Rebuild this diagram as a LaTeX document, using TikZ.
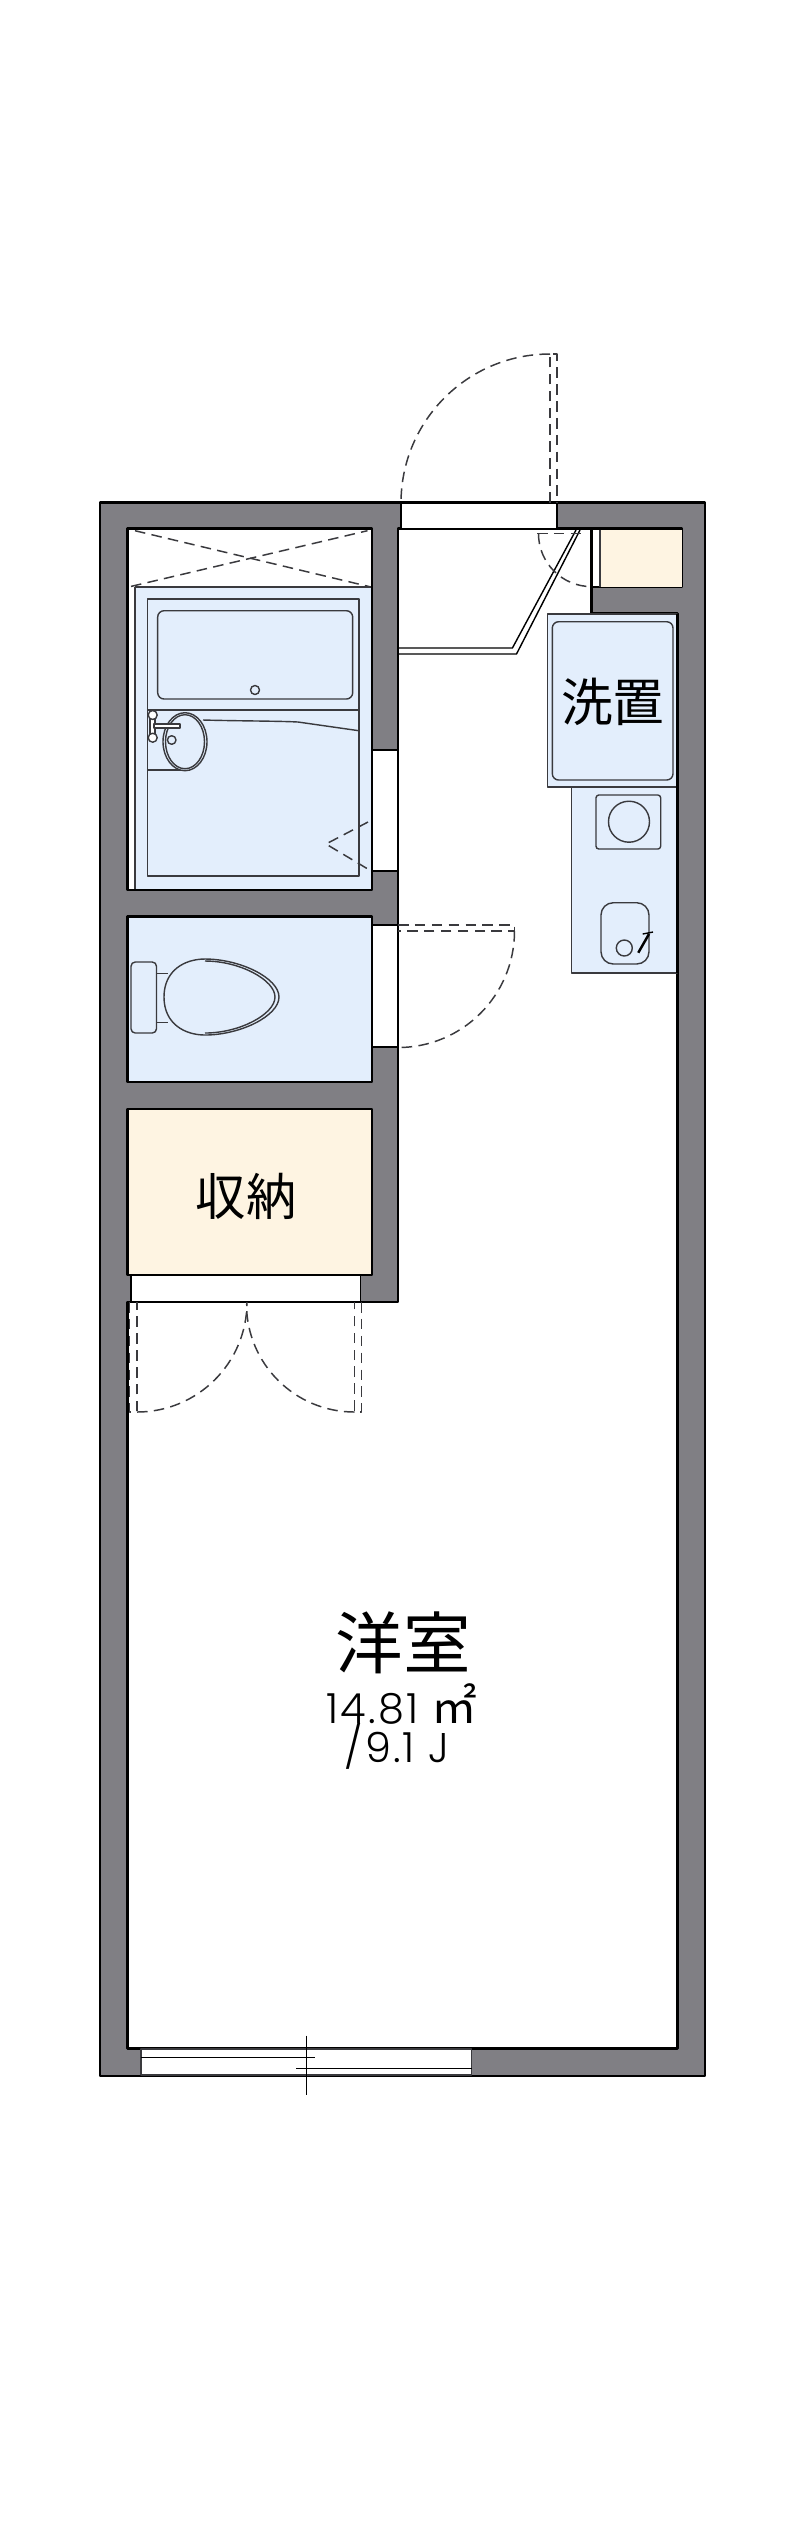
\documentclass[tikz,border=0pt]{standalone}
\usepackage{fontspec}
\newfontfamily\jpfont{Noto Sans CJK JP}
\newfontfamily\numfont[UprightFont=* Light, LetterSpace=5]{Poppins}
\usetikzlibrary{positioning}
\definecolor{wallgray}{HTML}{807F84}
\definecolor{wetblue}{HTML}{E3EEFC}
\definecolor{creamy}{HTML}{FEF4E2}
\definecolor{fixgray}{HTML}{3A3A3E}
\tikzset{
	wall/.style={fill=wallgray, draw=black, line width=0.6pt},
	roomline/.style={draw=black, line width=0.7pt},
	fixture/.style={draw=fixgray, line width=0.4pt},
	swing/.style={draw=fixgray, line width=0.42pt, dash pattern=on 3pt off 1.8pt},
	thinline/.style={draw=black, line width=0.3pt},
	opening/.style={fill=white, draw=none}
}
\begin{document}
\begin{tikzpicture}[x=0.01cm, y=-0.01cm, line join=round, line cap=butt]
	\useasboundingbox (0,0) rectangle (800,2541);
	\fill[white] (0,0) rectangle (800,2541);
	\coordinate (WL) at (141,2050);
	% walls and the big room
	\draw[wall] (100,502.5) rectangle (705,2076);
	\draw[roomline, fill=white] (398,528.6) -- (591.7,528.6) -- (591.7,613.5) -- (677.7,613.5) -- (677.7,2048.6) -- (127.5,2048.6) -- (127.5,1302) -- (398,1302) -- cycle;
	% front door
	\fill[opening] (401,503.5) rectangle (557,528);
	\draw[thinline] (401,502.5) -- (557,502.5);
	\draw[thinline] (401,502.5) -- (401,528.6);
	\draw[thinline, line width=0.5pt] (557,502.5) -- (557,528.6);
	\draw[swing] (550,502.5) -- (550,354) -- (557,354) -- (557,502.5);
	\draw[swing] (550,354) arc[start angle=270, end angle=180, radius=149];
	% entry step and its door
	\draw[thinline, line width=0.4pt] (398,648) -- (512.4,648) -- (576,530);
	\draw[thinline, line width=0.4pt] (398,654) -- (516.5,654) -- (580,530);
	\draw[swing] (537,533.6) -- (586,533.6);
	\draw[swing] (538.5,533.6) arc[start angle=180, end angle=90, radius=53];
	% meter box
	\draw[roomline, fill=white] (591.7,528.6) rectangle (682,587);
	\fill[creamy] (600,529.5) rectangle (681.5,586.5);
	\draw[fixture] (600,529.5) -- (600,586.5);
	% bath
	\draw[roomline, fill=white] (127.5,528.6) rectangle (372,890);
	\fill[wetblue] (135,587) rectangle (371,889);
	\draw[fixture] (135,587) -- (371,587);
	\draw[fixture] (135,587) -- (135,889);
	\draw[swing] (135,530.7) -- (371,587);
	\draw[swing] (131,586.4) -- (367.5,530.7);
	\draw[fixture] (147.7,599) rectangle (359,876);
	\draw[fixture, rounded corners=1.8pt] (157.7,610.7) rectangle (352.7,699);
	\draw[fixture] (147.7,710) -- (359,710);
	\draw[fixture] (255,690) circle (4.5);
	\draw[fixture] (203,720) .. controls (240,721) and (280,721) .. (298,722) -- (359,730.7);
	\draw[fixture] (147.7,770) -- (186.7,770);
	\draw[fixture, fill=wetblue] (185,741.7) ellipse (22 and 29);
	\draw[fixture] (185,741.7) ellipse (19.5 and 27);
	\draw[fixture, fill=white] (150,716) rectangle (155,738);
	\draw[fixture, fill=white] (152.7,715) circle (4.5);
	\draw[fixture, fill=white] (152.7,737.7) circle (4.5);
	\draw[fixture, fill=white] (154,724) rectangle (180,728);
	\draw[fixture] (171.7,740) circle (4.3);
	% bath door
	\fill[opening] (373,750) rectangle (397,871);
	\draw[thinline] (373,750) -- (397,750);
	\draw[thinline] (373,871) -- (397,871);
	\draw[roomline] (372,528.6) -- (372,890);
	\draw[swing] (368,822) -- (326,844) -- (370.7,870.7);
	% toilet
	\draw[roomline, fill=wetblue] (127.5,916.4) rectangle (372,1082);
	\draw[fixture, rounded corners=1.2pt] (131,962) rectangle (156.5,1033);
	\draw[fixture] (156.5,973.6) -- (167.5,973.6);
	\draw[fixture] (156.5,1022.5) -- (167.5,1022.5);
	\draw[fixture, fill=wetblue] (164,997) .. controls (164,970) and (185,959) .. (205,959) .. controls (240,959) and (279,978) .. (279,997) .. controls (279,1016) and (240,1035) .. (205,1035) .. controls (185,1035) and (164,1024) .. (164,997) -- cycle;
	\draw[fixture] (205,961) .. controls (240,961) and (275,980) .. (275,997) .. controls (275,1014) and (240,1033) .. (205,1033);
	% toilet door
	\fill[opening] (373,925) rectangle (399,1047);
	\draw[thinline] (373,925) -- (398,925);
	\draw[thinline] (373,1047) -- (398,1047);
	\draw[thinline] (398,925) -- (398,1047);
	\draw[swing] (398,925) -- (514.5,925) -- (514.5,931) -- (398,931);
	\draw[swing] (514.5,931) arc[start angle=0, end angle=90, radius=116.5];
	% closet
	\draw[roomline, fill=creamy] (127.5,1109) rectangle (372,1275);
	\fill[opening] (131,1276) rectangle (360.6,1301);
	\draw[thinline] (131,1275) -- (131,1302);
	\draw[thinline] (360.6,1275) -- (360.6,1302);
	\draw[thinline] (127.5,1302) -- (398,1302);
	\draw[swing] (129.6,1302) -- (129.6,1412) -- (137,1412) -- (137,1302);
	\draw[swing] (361.4,1302) -- (361.4,1412) -- (354.5,1412) -- (354.5,1302);
	\draw[swing] (137,1412) arc[start angle=90, end angle=0, radius=110];
	\draw[swing] (354.5,1412) arc[start angle=90, end angle=180, radius=108];
	% kitchen
	\draw[fixture, fill=wetblue] (571.7,787) rectangle (677,973);
	\draw[fixture, fill=wetblue] (547.7,614) rectangle (677,787);
	\draw[fixture, rounded corners=1.8pt] (552.3,621.7) rectangle (673,780);
	\draw[fixture, rounded corners=0.8pt] (596,795) rectangle (660.7,849);
	\draw[fixture] (629,821.7) circle (20.5);
	\draw[fixture, rounded corners=3.5pt] (601,902.7) rectangle (649,964);
	\draw[fixture] (624.3,948) circle (8);
	\draw[black, line width=0.7pt] (638.3,952.7) -- (649,934);
	\draw[black, line width=0.4pt] (642.7,934) -- (653,932);
	\draw[black, line width=0.7pt] (677.7,613.5) -- (677.7,973);
	% window
	\fill[opening] (141,2050) rectangle (471.6,2075);
	\draw[fixture] (141,2049) rectangle (471.6,2075);
	\draw[thinline] (WL |- 0,2057) -- (315,2057);
	\draw[thinline] (296,2068) -- (471.6,2068);
	\draw[thinline] (306.3,2035.7) -- (306.3,2094.6);
	% labels
	\node[inner sep=0pt, font=\jpfont\fontsize{14.7}{16}\selectfont] (wash) at (612.7,701.7) {洗置};
	\node[inner sep=0pt, font=\jpfont\fontsize{14.3}{16}\selectfont] (closet) at (246,1196) {収納};
	\node[inner sep=0pt, font=\jpfont\fontsize{19.2}{21}\selectfont] (room) at (403,1643) {洋室};
	\node[inner sep=0pt, anchor=base west, font=\numfont\fontsize{11.8}{14}\selectfont] (area) at (326,1723.6) {14.81 {\jpfont\fontsize{13}{14}\selectfont ㎡}};
	\node[inner sep=0pt, anchor=base west, font=\numfont\fontsize{11.8}{14}\selectfont] (size) at (344,1762) {/9.1 J};
\end{tikzpicture}
\end{document}
